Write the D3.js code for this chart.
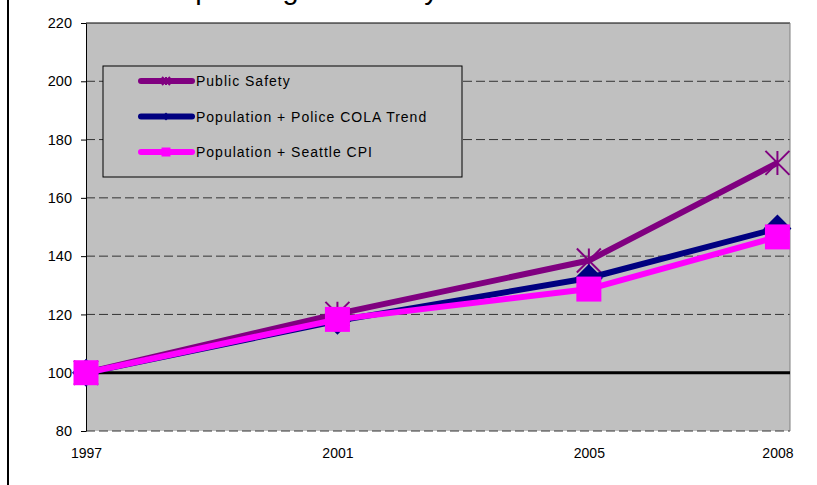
<!DOCTYPE html>
<html>
<head>
<meta charset="utf-8">
<script src="https://cdn.jsdelivr.net/npm/d3@7"></script>
<style>
  body { margin: 0; background: #fff; }
  svg { display: block; font-family: "Liberation Sans", Arial, sans-serif; }
</style>
</head>
<body>
<svg id="chart"></svg>
<script>
var width = 817;
var height = 485;

var years = [1997, 2001, 2005, 2008];
var publicSafety = [100, 120.2, 138.5, 172];
var policeCola = [100, 117.8, 132.5, 149.5];
var seattleCpi = [100, 118.3, 128.7, 146.6];
var yTicks = [80, 100, 120, 140, 160, 180, 200, 220];
var seriesNames = ['Public Safety', 'Population + Police COLA Trend', 'Population + Seattle CPI'];
var baseline = 100;

var plot = { left: 86, right: 790, top: 23, bottom: 431 };

var xScale = d3
  .scaleLinear()
  .domain([1997, 2008.2])
  .range([plot.left, plot.right]);
var yScale = d3
  .scaleLinear()
  .domain([80, 220])
  .range([plot.bottom, plot.top]);

var series = [
  { name: seriesNames[0], values: publicSafety, color: '#800080', marker: 'star' },
  { name: seriesNames[1], values: policeCola, color: '#000080', marker: 'diamond' },
  { name: seriesNames[2], values: seattleCpi, color: '#FF00FF', marker: 'square' },
];

var svg = d3.select('#chart').attr('width', width).attr('height', height);

// outer frame (left edge only visible)
svg.append('line')
  .attr('x1', 8).attr('x2', 8).attr('y1', 0).attr('y2', height)
  .attr('stroke', '#000').attr('stroke-width', 2);

// title, cropped by the top edge as in the source
svg.append('text')
  .attr('x', 176)
  .attr('y', -1)
  .attr('font-size', 29)
  .attr('fill', '#000')
  .text('Spending Growth by Area');

// plot background
svg.append('rect')
  .attr('x', plot.left)
  .attr('y', plot.top)
  .attr('width', plot.right - plot.left)
  .attr('height', plot.bottom - plot.top)
  .attr('fill', '#C0C0C0');

// dashed gridlines
svg.append('g')
  .selectAll('line')
  .data(yTicks.filter((d) => d < 220))
  .enter()
  .append('line')
  .attr('x1', plot.left)
  .attr('x2', plot.right)
  .attr('y1', (d) => yScale(d))
  .attr('y2', (d) => yScale(d))
  .attr('stroke', '#333')
  .attr('stroke-width', 1)
  .attr('stroke-dasharray', '9,4');

// top and right borders
svg.append('line')
  .attr('x1', plot.left).attr('x2', plot.right)
  .attr('y1', plot.top).attr('y2', plot.top)
  .attr('stroke', '#000').attr('stroke-width', 1);
svg.append('line')
  .attr('x1', plot.right).attr('x2', plot.right)
  .attr('y1', plot.top).attr('y2', plot.bottom)
  .attr('stroke', '#808080').attr('stroke-width', 1);

// y axis
var yAxis = d3.axisLeft(yScale).tickValues(yTicks).tickSize(5).tickSizeOuter(0).tickPadding(9);
var yG = svg.append('g')
  .attr('transform', 'translate(' + plot.left + ',0)')
  .call(yAxis);
yG.selectAll('text').attr('font-size', 14.5).attr('font-family', '"Liberation Sans", Arial, sans-serif').attr('fill', '#000');
yG.selectAll('line, path').attr('stroke', '#000');

// x axis labels
var xAxis = d3.axisBottom(xScale).tickValues(years).tickFormat(d3.format('d')).tickSize(0).tickPadding(17);
var xG = svg.append('g')
  .attr('transform', 'translate(0,' + plot.bottom + ')')
  .call(xAxis);
xG.select('.domain').remove();
xG.selectAll('text').attr('font-size', 14).attr('font-family', '"Liberation Sans", Arial, sans-serif').attr('fill', '#000');

// thick baseline at 100
svg.append('line')
  .attr('x1', plot.left).attr('x2', plot.right)
  .attr('y1', yScale(baseline)).attr('y2', yScale(baseline))
  .attr('stroke', '#000').attr('stroke-width', 3);

function drawMarker(g, type, x, y, s, color) {
  if (type === 'star') {
    g.append('path')
      .attr('d', 'M' + (x - s) + ',' + (y - s) + 'L' + (x + s) + ',' + (y + s) +
        'M' + (x - s) + ',' + (y + s) + 'L' + (x + s) + ',' + (y - s) +
        'M' + x + ',' + (y - s) + 'L' + x + ',' + (y + s))
      .attr('stroke', color).attr('stroke-width', 2).attr('fill', 'none');
  } else if (type === 'diamond') {
    g.append('path')
      .attr('d', 'M' + x + ',' + (y - s) + 'L' + (x + s) + ',' + y + 'L' + x + ',' + (y + s) + 'L' + (x - s) + ',' + y + 'Z')
      .attr('fill', color);
  } else {
    g.append('rect')
      .attr('x', x - s).attr('y', y - s)
      .attr('width', 2 * s).attr('height', 2 * s)
      .attr('fill', color);
  }
}

var line = d3.line()
  .x((d, i) => xScale(years[i]))
  .y((d) => yScale(d));

var sizes = { star: 12, diamond: 14, square: 12.5 };

series.forEach(function (s) {
  var g = svg.append('g');
  g.append('path')
    .attr('d', line(s.values))
    .attr('fill', 'none')
    .attr('stroke', s.color)
    .attr('stroke-width', 6)
    .attr('stroke-linejoin', 'round');
  s.values.forEach(function (v, i) {
    drawMarker(g, s.marker, xScale(years[i]), yScale(v), sizes[s.marker], s.color);
  });
});

// legend
var legend = svg.append('g');
legend.append('rect')
  .attr('x', 103).attr('y', 66)
  .attr('width', 359).attr('height', 111)
  .attr('fill', '#C0C0C0')
  .attr('stroke', '#000').attr('stroke-width', 1);

var legendY = d3.scalePoint().domain(seriesNames).range([81, 152]);
var legendSizes = { star: 4, diamond: 4, square: 4.5 };
series.forEach(function (s) {
  var y = legendY(s.name);
  legend.append('line')
    .attr('x1', 141).attr('x2', 192)
    .attr('y1', y).attr('y2', y)
    .attr('stroke', s.color).attr('stroke-width', 6)
    .attr('stroke-linecap', 'round');
  drawMarker(legend, s.marker, 166, y, legendSizes[s.marker], s.color);
  legend.append('text')
    .attr('x', 196).attr('y', y)
    .attr('dy', '0.36em')
    .attr('font-size', 14)
    .attr('letter-spacing', 1)
    .attr('fill', '#000')
    .text(s.name);
});
</script>
</body>
</html>
